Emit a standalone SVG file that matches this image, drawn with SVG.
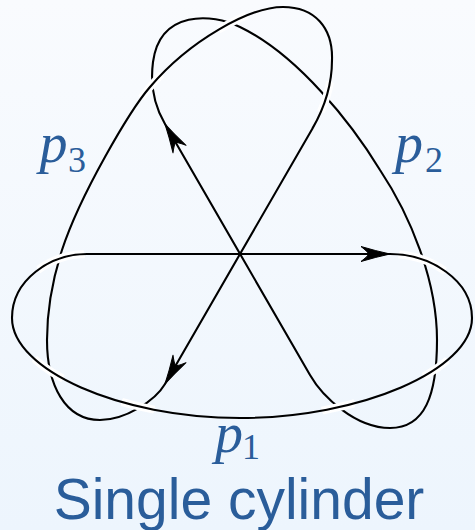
<svg xmlns="http://www.w3.org/2000/svg" width="475" height="530" viewBox="0 0 475 530">
  <defs>
    <linearGradient id="bg" x1="0" y1="0" x2="0" y2="1">
      <stop offset="0" stop-color="#f9fbfe"/>
      <stop offset="1" stop-color="#edf5fd"/>
    </linearGradient>
    <path id="head" d="M0,0 Q-14,-3 -29,-7.5 Q-23,-3 -21,0 Q-23,3 -29,7.5 Q-14,3 0,0 Z"/>
    <clipPath id="clip1">
      <circle cx="60" cy="258" r="25"/>
      <circle cx="47" cy="371" r="18"/>
      <circle cx="138" cy="406" r="17"/>
      <circle cx="423" cy="260" r="25"/>
      <circle cx="436" cy="369" r="15"/>
      <circle cx="338" cy="406" r="17"/>
    </clipPath>
    <clipPath id="clip3">
      <circle cx="151" cy="86" r="16"/>
      <circle cx="233" cy="23" r="16"/>
      <circle cx="326" cy="97" r="16"/>
    </clipPath>
    <style>
      .strand { fill: none; stroke: #000; stroke-width: 2.1; stroke-linejoin: round; }
      .halo { fill: none; stroke: #fff; stroke-width: 8; }
      .arrow { fill: #000; stroke: #000; stroke-width: 1; stroke-linejoin: round; }
      .lbl { font-family: "Liberation Serif", "Times New Roman", serif; fill: #2a5d9a; }
      .mi { font-style: italic; font-size: 56px; }
      .sub { font-size: 36px; }
      .title { font-family: "Liberation Sans", Arial, sans-serif; font-size: 57px; fill: #2a5d9a; }
    </style>
  </defs>
  <rect x="0" y="0" width="475" height="530" fill="url(#bg)"/>

  <g id="p2">
    <path class="strand" d="M165,124 L310,375 C322,396 355,428 390,428 C425,428 437,395 437,340 C437,280 410,215 380,170 C352,124 298,55 240,27 C212,13 160,10 153,62 C150,85 155,107 165,124 Z"/>
    <use href="#head" class="arrow" transform="translate(165,124) rotate(-120)"/>
    <text class="lbl mi" x="395" y="162">p</text>
    <text class="lbl sub" x="425" y="172">2</text>
  </g>

  <g id="p3">
    <path class="halo" clip-path="url(#clip3)" d="M312.5,128.4 C322,112 332,88 332,60 C333,28 315,7 283,7 C250,7 190,40 150,87 C130,110 80,195 62,250 C54,275 47,305 47,340 C47,385 65,420 100,420 C125,420 155,401 165,384 Z"/>
    <path class="strand" d="M312.5,128.4 C322,112 332,88 332,60 C333,28 315,7 283,7 C250,7 190,40 150,87 C130,110 80,195 62,250 C54,275 47,305 47,340 C47,385 65,420 100,420 C125,420 155,401 165,384 Z"/>
    <use href="#head" class="arrow" transform="translate(165,384) rotate(120)"/>
    <text class="lbl mi" x="39.5" y="162">p</text>
    <text class="lbl sub" x="68" y="172">3</text>
  </g>

  <g id="p1">
    <path class="halo" clip-path="url(#clip1)" d="M87,254 L390,254 C430,254 472,280 472,318 C472,370 360,418 240,418 C120,418 12,370 12,318 C12,280 50,254 87,254 Z"/>
    <path class="strand" d="M87,254 L390,254 C430,254 472,280 472,318 C472,370 360,418 240,418 C120,418 12,370 12,318 C12,280 50,254 87,254 Z"/>
    <use href="#head" class="arrow" transform="translate(390,254)"/>
    <text class="lbl mi" x="215" y="452">p</text>
    <text class="lbl sub" x="242" y="459">1</text>
  </g>

  <text id="caption" class="title" x="239" y="519" text-anchor="middle">Single cylinder</text>
</svg>
